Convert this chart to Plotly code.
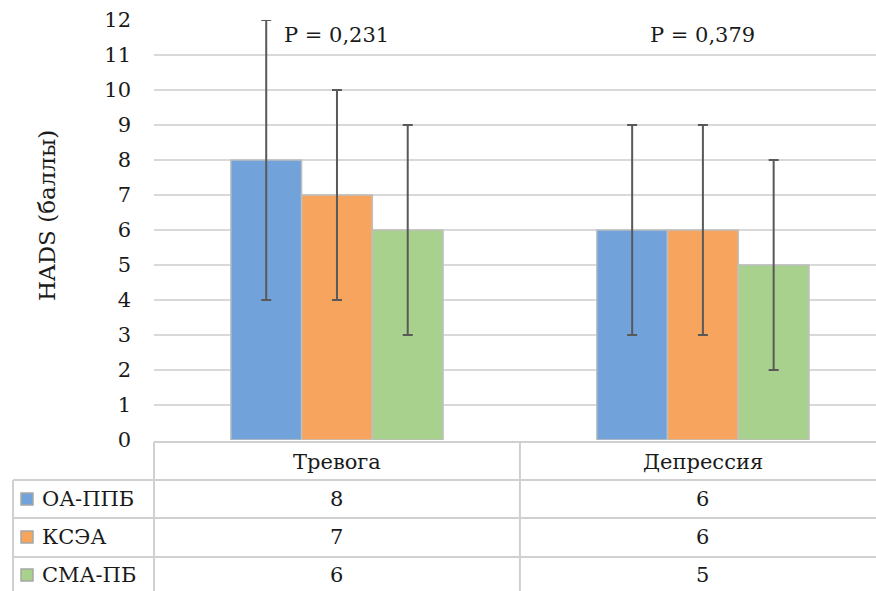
import plotly.graph_objects as go

# Data
categories = ["Тревога", "Депрессия"]
series_names = ["ОА-ППБ", "КСЭА", "СМА-ПБ"]
series_values = {
    "ОА-ППБ": [8, 6],
    "КСЭА": [7, 6],
    "СМА-ПБ": [6, 5],
}
series_errors = {
    "ОА-ППБ": [4, 3],
    "КСЭА": [3, 3],
    "СМА-ПБ": [3, 3],
}
p_labels = ["P = 0,231", "P = 0,379"]
y_ticks = list(range(0, 13))

# Styling
colors = {"ОА-ППБ": "#71A2DA", "КСЭА": "#F7A55E", "СМА-ПБ": "#A9D18E"}
FONT = "DejaVu Serif"
FS = 21
TXT = "#1a1a1a"
GRID = "#d9d9d9"
W, H = 876, 591


def px(x):
    return x / W


def py(y):
    return 1 - y / H


fig = go.Figure()
cat_idx = list(range(len(categories)))
for name in series_names:
    fig.add_trace(go.Bar(
        x=cat_idx,
        y=series_values[name],
        name=name,
        marker=dict(color=colors[name], line=dict(color="#bfbfbf", width=1.5)),
        error_y=dict(type="data", array=series_errors[name], symmetric=True,
                     color="#595959", thickness=2, width=5),
        showlegend=False,
    ))

shapes = []
annotations = []
txt_font = dict(family=FONT, size=FS, color=TXT)

# P-value labels above each category
for i, lab in enumerate(p_labels):
    annotations.append(dict(x=i, y=11.57, xref="x", yref="y", text=lab,
                            xanchor="center", yanchor="middle",
                            showarrow=False, font=txt_font))

# Y-axis title
annotations.append(dict(x=px(47), y=py(216), xref="paper", yref="paper",
                        text="HADS (баллы)", textangle=-90, showarrow=False,
                        xanchor="center", yanchor="middle",
                        font=dict(family=FONT, size=23, color=TXT)))

# Data table under the chart
line = dict(color="#d0d0d0", width=2)
row_lines = [442, 480, 518, 557]
for k, yl in enumerate(row_lines):
    x0 = px(154) if k == 0 else px(13)
    shapes.append(dict(type="line", xref="paper", yref="paper",
                       x0=x0, x1=1, y0=py(yl), y1=py(yl), line=line))
shapes.append(dict(type="line", xref="paper", yref="paper",
                   x0=px(13), x1=px(13), y0=py(480), y1=0, line=line))
shapes.append(dict(type="line", xref="paper", yref="paper",
                   x0=px(154), x1=px(154), y0=py(442), y1=0, line=line))
shapes.append(dict(type="line", xref="x", yref="paper",
                   x0=0.5, x1=0.5, y0=py(442), y1=0, line=line))

# Header row: category names
for i, c in enumerate(categories):
    annotations.append(dict(x=i, y=py(462), xref="x", yref="paper", text=c,
                            xanchor="center", yanchor="middle",
                            showarrow=False, font=txt_font))

# Series rows: legend key, name and values
row_centers = [499, 537, 575]
for r, name in enumerate(series_names):
    yc = row_centers[r]
    shapes.append(dict(type="rect", xref="paper", yref="paper",
                       x0=px(21), x1=px(33), y0=py(yc - 6), y1=py(yc + 6),
                       fillcolor=colors[name], line=dict(color="#a6a6a6", width=1.5)))
    annotations.append(dict(x=px(40), y=py(yc), xref="paper", yref="paper",
                            text=name, xanchor="left", yanchor="middle",
                            showarrow=False, font=txt_font))
    for i, v in enumerate(series_values[name]):
        annotations.append(dict(x=i, y=py(yc), xref="x", yref="paper",
                                text=str(v), xanchor="center", yanchor="middle",
                                showarrow=False, font=txt_font))

fig.update_layout(
    width=W, height=H,
    margin=dict(l=0, r=0, t=0, b=0, autoexpand=False),
    font=dict(family=FONT, size=FS, color=TXT),
    paper_bgcolor="white", plot_bgcolor="white",
    barmode="group", bargap=0.42, bargroupgap=0,
    shapes=shapes, annotations=annotations,
    xaxis=dict(domain=[px(154), 1], range=[-0.5, 1.473], showticklabels=False,
               showgrid=False, zeroline=False, showline=False, ticks=""),
    yaxis=dict(domain=[py(440), py(20)], range=[0, 12], tickvals=y_ticks,
               showgrid=True, gridcolor=GRID, gridwidth=1.5,
               zeroline=False, showline=False, ticks="",
               ticklabelstandoff=22,
               tickfont=dict(family=FONT, size=FS, color=TXT)),
)

fig.write_html("out.html")
